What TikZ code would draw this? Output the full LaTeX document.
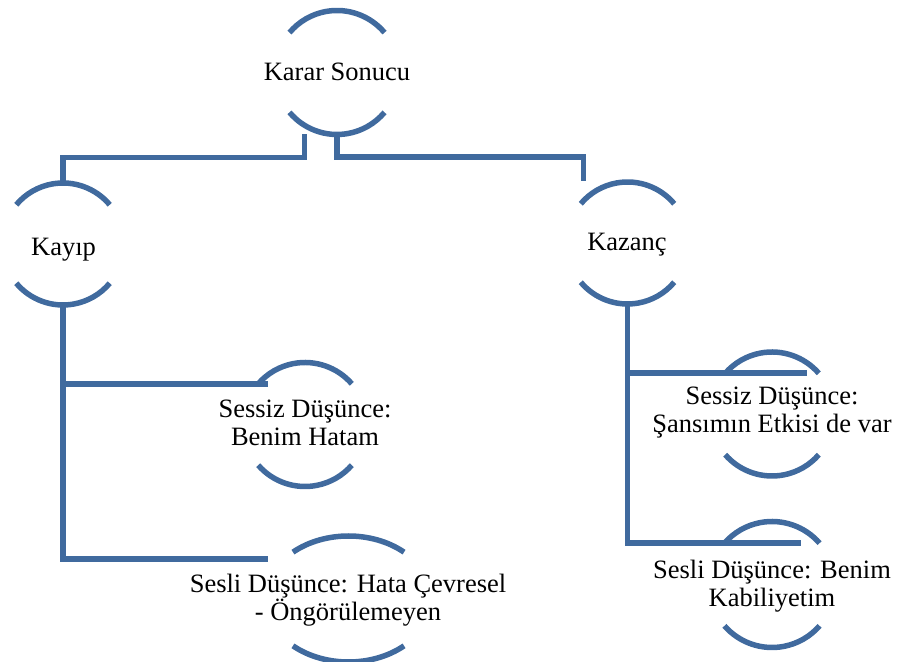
\documentclass[tikz,border=0pt]{standalone}
\usepackage{fontspec}
\setmainfont{Liberation Serif}
\usetikzlibrary{calc}
\definecolor{ringblue}{RGB}{64,106,158}
\tikzset{
  hub/.style={circle, minimum size=62pt, inner sep=0pt, outer sep=0pt},
  ring/.style={ringblue, line width=2.75pt},
  link/.style={ringblue, line width=2.75pt},
  txt/.style={align=center, inner sep=0pt, font=\fontsize{13.25pt}{14pt}\selectfont},
}
\begin{document}
\begin{tikzpicture}[x=0.5pt, y=0.5pt]
  \useasboundingbox (0,0) rectangle (898,662);
  % ring centres
  \node[hub] (kr) at (337,589.5) {};
  \node[hub] (ky) at (63,418) {};
  \node[hub] (kz) at (627.5,419) {};
  \node[hub] (bh) at (305,237.5) {};
  \node[hub] (sz) at (772,248) {};
  \node[hub] (hc) at (348.5,63) {};
  \node[hub] (kb) at (772,77.5) {};
  % the two arcs of each ring
  \foreach \n/\a/\b/\t in {kr/31/31/40, ky/30.5/30.5/40, kz/30.5/30.5/40,
                           bh/31/31/41, sz/31/31/41, hc/41.5/31.5/48,
                           kb/31.5/31.5/41}{
    \draw[ring] ([shift={(\t:\a pt and \b pt)}]\n.center)
                arc[start angle=\t, end angle=180-\t, x radius=\a pt, y radius=\b pt]
                ([shift={(180+\t:\a pt and \b pt)}]\n.center)
                arc[start angle=180+\t, end angle=360-\t, x radius=\a pt, y radius=\b pt];
  }
  % texts
  \node[txt] (kr-t) at (337,589.7) {Karar Sonucu};
  \node[txt] (ky-t) at (63.5,412.8) {Kayıp};
  \node[txt] (kz-t) at (627,417) {Kazanç};
  \node[txt] (bh-t) at (305,239.6) {Sessiz Düşünce:\\Benim Hatam};
  \node[txt] (sz-t) at (772,249) {Sessiz Düşünce:\\Şansımın Etkisi de var};
  \node[txt] (hc-t) at (348,61.6) {Sesli Düşünce: Hata Çevresel\\- Öngörülemeyen};
  \node[txt] (kb-t) at (772,75.7) {Sesli Düşünce: Benim\\Kabiliyetim};
  % branch ends
  \coordinate (bh-in) at (268,278);
  \coordinate (hc-in) at (268,103);
  \coordinate (sz-in) at (807,289);
  \coordinate (kb-in) at (801,119);
  % connectors
  \draw[link] ($(kr.south)+(-32.5,0)$) -- ++(0,-23) -| (ky.north);
  \draw[link] (kr.south) -- ++(0,-22.5) -| ($(kz.north)+(-44,0)$);
  \draw[link] (ky.south) |- (bh-in)
              (ky.south) |- (hc-in);
  \draw[link] (kz.south) |- (sz-in)
              (kz.south) |- (kb-in);
\end{tikzpicture}
\end{document}
